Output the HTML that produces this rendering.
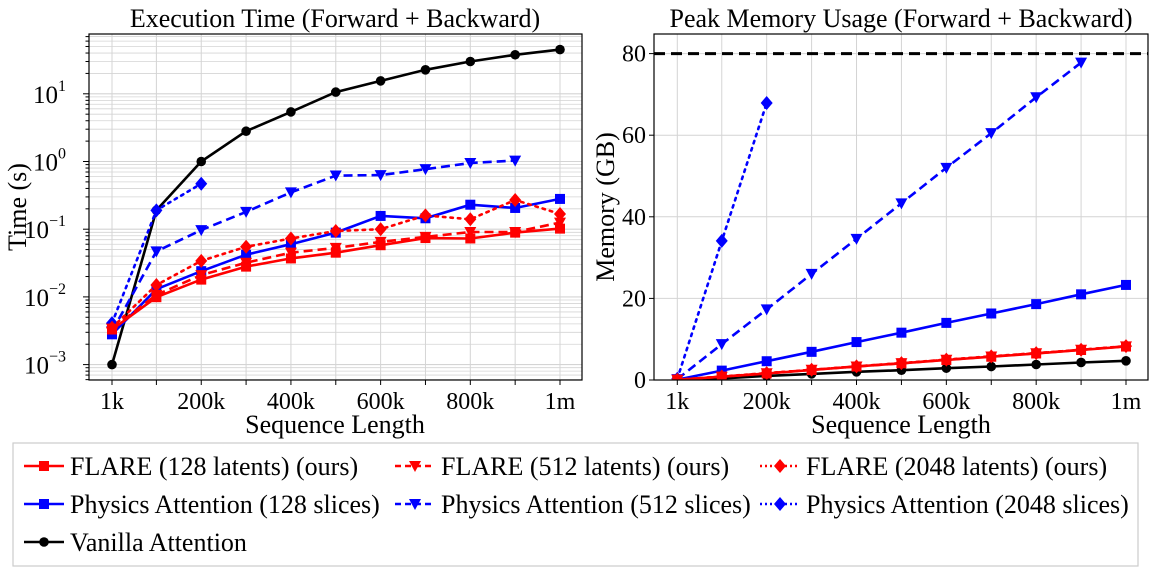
<!DOCTYPE html>
<html><head><meta charset="utf-8">
<style>
body{margin:0;background:#fff;}
svg{display:block;font-family:"Liberation Serif","DejaVu Serif",serif;}
</style></head>
<body>
<svg id="fig" width="1155" height="574" viewBox="0 0 1155 574" xmlns="http://www.w3.org/2000/svg"></svg>
<script>
// ---- data ----
const seqK = [1,100,200,300,400,500,600,700,800,900,1000];
const xTickVals = [1,200,400,600,800,1000];
const xTickLabels = ["1k","200k","400k","600k","800k","1m"];
const timeVanilla = [0.001,0.19,1.0,2.8,5.4,10.6,15.5,22.6,30,37.7,45];
const timePhys128 = [0.0028,0.013,0.024,0.042,0.060,0.089,0.157,0.145,0.23,0.206,0.28];
const timePhys512 = [0.0031,0.047,0.097,0.18,0.35,0.62,0.63,0.77,0.95,1.03];
const timePhys2048 = [0.0041,0.19,0.47];
const timeFlare128 = [0.0033,0.0099,0.018,0.028,0.037,0.045,0.058,0.074,0.073,0.089,0.102];
const timeFlare512 = [0.0034,0.0107,0.021,0.032,0.045,0.053,0.065,0.077,0.091,0.091,0.125];
const timeFlare2048 = [0.0035,0.015,0.034,0.055,0.073,0.094,0.1,0.16,0.14,0.27,0.168];
const memVanilla = [0.05,0.4,1.0,1.5,2.0,2.4,2.9,3.3,3.8,4.3,4.7];
const memPhys128 = [0.1,2.3,4.6,6.9,9.3,11.6,14.0,16.3,18.6,21.0,23.3];
const memPhys512 = [0.2,8.8,17.3,26.0,34.6,43.3,52.0,60.5,69.3,77.8];
const memPhys2048 = [0.3,34.1,67.9];
const memFlare128 = [0.05,0.8,1.6,2.45,3.3,4.1,4.9,5.7,6.5,7.35,8.2];
const memFlare512 = [0.05,0.8,1.65,2.5,3.3,4.1,4.95,5.75,6.55,7.4,8.25];
const memFlare2048 = [0.05,0.85,1.7,2.5,3.35,4.15,5.0,5.8,6.6,7.4,8.3];
const memLimit = 80;
const timeTickExps = [-3,-2,-1,0,1];
const memTicks = [0,20,40,60,80];

const NS="http://www.w3.org/2000/svg";
const svg=document.getElementById('fig');
function mk(tag,attrs,parent){const e=document.createElementNS(NS,tag);for(const k in attrs)e.setAttribute(k,attrs[k]);(parent||svg).appendChild(e);return e;}

const L={x0:89,x1:582,y0:34,y1:380};
const R={x0:654,x1:1148,y0:34,y1:380};
const xL=n=>112+(n-1)/999*448;
const xR=n=>677.3+(n-1)/999*448.7;
const yL=v=>161.5-Math.log10(v)*67.7;
const yR=v=>380-v*4.08;

function marker(g,type,x,y,color){
  let m;
  if(type==='s') m=mk('rect',{x:x-5,y:y-5,width:10,height:10,fill:color},g);
  else if(type==='o') m=mk('circle',{cx:x,cy:y,r:4.8,fill:color},g);
  else if(type==='v') m=mk('polygon',{points:`${x-6},${y-5} ${x+6},${y-5} ${x},${y+6}`,fill:color},g);
  else if(type==='D') m=mk('polygon',{points:`${x},${y-7} ${x+6},${y} ${x},${y+7} ${x-6},${y}`,fill:color},g);
  
  
  return m;
}
const dashes={'-':'none','--':'9,5','..':'2.5,5'};
function series(name,vals,xf,yf,color,dash,mt,clip){
  const g=mk('g',{'clip-path':`url(#${clip})`});
  
  
  const pts=vals.map((v,i)=>`${xf(seqK[i]).toFixed(1)},${yf(v).toFixed(1)}`).join(' ');
  mk('polyline',{points:pts,fill:'none',stroke:color,'stroke-width':2.6,'stroke-dasharray':dashes[dash],'stroke-linecap':dash==='..'?'round':'butt'},g);
  vals.forEach((v,i)=>marker(g,mt,xf(seqK[i]),yf(v),color));
}
const defs=mk('defs',{});
[['cL',L],['cR',R]].forEach(([id,A])=>{const c=mk('clipPath',{id},defs);mk('rect',{x:A.x0-8,y:A.y0-8,width:A.x1-A.x0+16,height:A.y1-A.y0+8},c);});

function text(str,x,y,size,anchor,name,extra){
  const t=mk('text',Object.assign({x,y,'font-size':size,'text-anchor':anchor||'middle',fill:'#000'},extra||{}));
  t.textContent=str;
  
  
  return t;
}

// ---------- Left axes ----------
const gl=mk('g',{});


for(let e=-4;e<=2;e++){for(let k=1;k<10;k++){const v=k*Math.pow(10,e);const y=yL(v);if(y<L.y0||y>L.y1)continue;
  mk('line',{x1:L.x0,x2:L.x1,y1:y,y2:y,stroke:'#d4d4d4','stroke-width':k===1?1.1:0.8},gl);
  mk('line',{x1:L.x0,x2:L.x0-(k===1?6:3.5),y1:y,y2:y,stroke:'#000','stroke-width':1},gl);}}
seqK.forEach(n=>{mk('line',{x1:xL(n),x2:xL(n),y1:L.y0,y2:L.y1,stroke:'#d4d4d4','stroke-width':1},gl);mk('line',{x1:xL(n),x2:xL(n),y1:L.y1,y2:L.y1+5,stroke:'#000'},gl);});
timeTickExps.forEach(e=>{const y=yL(Math.pow(10,e));
  const t=text('10',66,y+9,25,'end','y-tick-label');
  const s=mk('tspan',{'font-size':16,dy:-12},t);s.textContent=String(e).replace('-','\u2212');});
xTickVals.forEach((n,i)=>text(xTickLabels[i],xL(n),409,24,'middle','x-tick-label'));
series('vanilla-time',timeVanilla,xL,yL,'#000','-','o','cL');
series('physics-128-time',timePhys128,xL,yL,'#0000ff','-','s','cL');
series('physics-512-time',timePhys512,xL,yL,'#0000ff','--','v','cL');
series('physics-2048-time',timePhys2048,xL,yL,'#0000ff','..','D','cL');
series('flare-2048-time',timeFlare2048,xL,yL,'#ff0000','..','D','cL');
series('flare-512-time',timeFlare512,xL,yL,'#ff0000','--','v','cL');
series('flare-128-time',timeFlare128,xL,yL,'#ff0000','-','s','cL');
const fl=mk('rect',{x:L.x0,y:L.y0,width:L.x1-L.x0,height:L.y1-L.y0,fill:'none',stroke:'#000','stroke-width':1.2});

text('Execution Time (Forward + Backward)',335,27,26,'middle','time-chart-title');
text('Sequence Length',335,433,26,'middle','time-x-axis-title');
text('Time (s)',0,0,26,'middle','time-y-axis-title',{transform:'translate(26,207) rotate(-90)'});

// ---------- Right axes ----------
const gr=mk('g',{});


memTicks.forEach(v=>{const y=yR(v);mk('line',{x1:R.x0,x2:R.x1,y1:y,y2:y,stroke:'#d4d4d4','stroke-width':1},gr);mk('line',{x1:R.x0,x2:R.x0-5,y1:y,y2:y,stroke:'#000'},gr);
  text(String(v),646,y+8,24,'end','y-tick-label');});
seqK.forEach(n=>{mk('line',{x1:xR(n),x2:xR(n),y1:R.y0,y2:R.y1,stroke:'#d4d4d4','stroke-width':1},gr);mk('line',{x1:xR(n),x2:xR(n),y1:R.y1,y2:R.y1+5,stroke:'#000'},gr);});
xTickVals.forEach((n,i)=>text(xTickLabels[i],xR(n),409,24,'middle','x-tick-label'));
const lim=mk('line',{x1:R.x0,x2:R.x1,y1:yR(memLimit),y2:yR(memLimit),stroke:'#000','stroke-width':3,'stroke-dasharray':'11,6'});

series('vanilla-memory',memVanilla,xR,yR,'#000','-','o','cR');
series('physics-128-memory',memPhys128,xR,yR,'#0000ff','-','s','cR');
series('physics-512-memory',memPhys512,xR,yR,'#0000ff','--','v','cR');
series('physics-2048-memory',memPhys2048,xR,yR,'#0000ff','..','D','cR');
series('flare-2048-memory',memFlare2048,xR,yR,'#ff0000','..','D','cR');
series('flare-512-memory',memFlare512,xR,yR,'#ff0000','--','v','cR');
series('flare-128-memory',memFlare128,xR,yR,'#ff0000','-','s','cR');
const fr=mk('rect',{x:R.x0,y:R.y0,width:R.x1-R.x0,height:R.y1-R.y0,fill:'none',stroke:'#000','stroke-width':1.2});

text('Peak Memory Usage (Forward + Backward)',901,27,26,'middle','memory-chart-title');
text('Sequence Length',901,433,26,'middle','memory-x-axis-title');
text('Memory (GB)',0,0,26,'middle','memory-y-axis-title',{transform:'translate(614,207) rotate(-90)'});

// ---------- Legend ----------
const lg=mk('g',{});


mk('rect',{x:13,y:443,width:1125,height:123,fill:'#fff',stroke:'#ccc','stroke-width':1.2},lg);
const entries=[
 ['FLARE (128 latents) (ours)','#ff0000','-','s',24,466],
 ['FLARE (512 latents) (ours)','#ff0000','--','v',395,466],
 ['FLARE (2048 latents) (ours)','#ff0000','..','D',760,466],
 ['Physics Attention (128 slices)','#0000ff','-','s',24,504],
 ['Physics Attention (512 slices)','#0000ff','--','v',395,504],
 ['Physics Attention (2048 slices)','#0000ff','..','D',760,504],
 ['Vanilla Attention','#000','-','o',24,542]];
entries.forEach(([lab,c,d,m,x,y])=>{
  const g=mk('g',{},lg);
  
  
  mk('line',{x1:x,x2:x+40,y1:y,y2:y,stroke:c,'stroke-width':2.6,'stroke-dasharray':d==='--'?'6,4':(d==='..'?'2,3':'none')},g);
  marker(g,m,x+20,y,c);
  const t=mk('text',{x:x+46,y:y+9,'font-size':26,fill:'#000'},g);t.textContent=lab;
});
</script>
</body></html>
